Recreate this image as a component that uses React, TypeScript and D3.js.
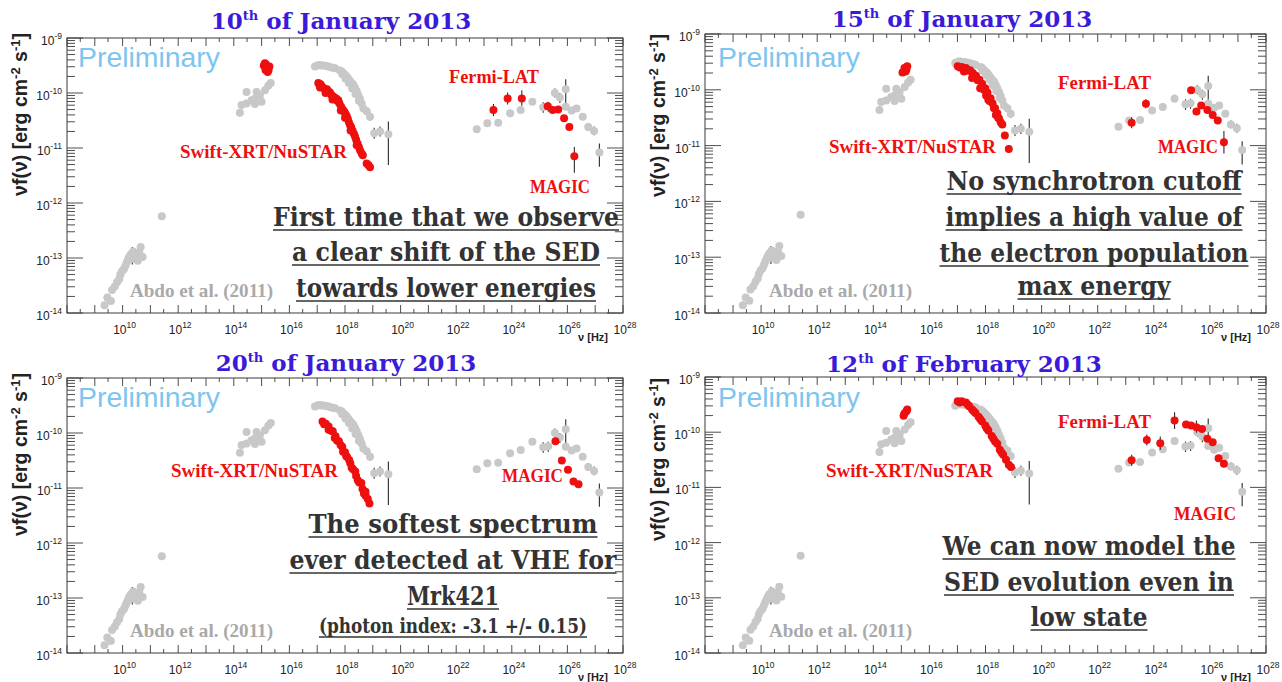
import React from "react";
import * as d3 from "d3";

// Each point: [log10 ν (Hz), log10 νF(ν) (erg cm^-2 s^-1), error down (dex), error up (dex)]
type Pt = number[];

// ---- Archival SED, Abdo et al. (2011) ----
const abdoRadio: Pt[] = [
  [9.35, -13.86], [9.45, -13.72], [9.58, -13.78], [9.62, -13.58], [9.72, -13.52],
  [9.8, -13.44], [9.88, -13.38], [9.92, -13.3], [9.98, -13.24], [10.05, -13.2],
  [10.1, -13.14], [10.15, -13.08], [10.2, -13.02], [10.25, -12.97], [10.3, -12.93],
  [10.35, -12.95, 0.17, 0.15], [10.38, -12.88], [10.42, -13.02], [10.48, -12.98],
  [10.55, -13.05], [10.6, -12.9], [10.65, -12.8], [10.72, -12.98],
];
const abdoMm: Pt[] = [[11.41, -12.24]];
const abdoOptical: Pt[] = [
  [14.22, -10.36], [14.28, -10.22], [14.46, -10.19], [14.46, -9.98], [14.64, -10.13],
  [14.76, -10.1], [14.76, -10.2], [14.82, -9.98], [14.94, -10.04], [15.0, -10.16],
  [15.12, -9.95], [15.24, -9.87], [15.33, -9.82],
];
const abdoXray: Pt[] = [
  [16.92, -9.52], [17.0, -9.5], [17.08, -9.49], [17.16, -9.5], [17.24, -9.5],
  [17.32, -9.51], [17.4, -9.52], [17.48, -9.53], [17.56, -9.54], [17.64, -9.55],
  [17.82, -9.59], [17.88, -9.61], [17.94, -9.64], [18.0, -9.67], [18.06, -9.7],
  [18.12, -9.74], [18.18, -9.78], [18.24, -9.82], [18.3, -9.85], [18.36, -9.91],
  [18.42, -9.97], [18.48, -10.04], [18.54, -10.11], [18.6, -10.19],
  [17.9, -9.66], [18.02, -9.74], [18.14, -9.82], [18.26, -9.92], [18.38, -10.02],
  [18.5, -10.14],
  [18.66, -10.28, 0.06, 0.06], [18.78, -10.33, 0.05, 0.05], [18.9, -10.43, 0.07, 0.07],
  [19.05, -10.73, 0.1, 0.1], [19.26, -10.7, 0.09, 0.09], [19.56, -10.75, 0.56, 0.23],
];
const abdoGamma: Pt[] = [
  [22.74, -10.66], [23.12, -10.55], [23.51, -10.54], [23.94, -10.37, 0.05, 0.05],
  [24.32, -10.31, 0.06, 0.06], [24.74, -10.16, 0.06, 0.07], [25.13, -10.26, 0.1, 0.09],
  [25.31, -10.24, 0.1, 0.08], [25.55, -10.0, 0.08, 0.08], [25.73, -10.08, 0.1, 0.08],
  [25.94, -9.93, 0.25, 0.18], [25.94, -10.25], [26.15, -10.32], [26.33, -10.28],
  [26.55, -10.43], [26.75, -10.62, 0.07, 0.07], [26.96, -10.69, 0.08, 0.08],
  [27.15, -11.08, 0.26, 0.16],
];

// ---- 10 January 2013 ----
const jan10Optical: Pt[] = [
  [15.08, -9.5], [15.12, -9.46], [15.16, -9.48], [15.2, -9.53], [15.25, -9.58],
  [15.28, -9.52], [15.22, -9.62], [15.14, -9.58],
];
const jan10Xray: Pt[] = [
  [17.04, -9.82], [17.08, -9.85], [17.12, -9.84], [17.16, -9.88], [17.2, -9.9],
  [17.25, -9.92], [17.3, -9.95], [17.35, -9.93], [17.4, -9.97], [17.46, -9.99],
  [17.5, -10.03], [17.56, -10.06], [17.62, -10.08], [17.68, -10.1], [17.72, -10.14],
  [17.76, -10.13], [17.8, -10.19], [17.86, -10.25], [17.92, -10.3], [17.98, -10.34],
  [18.02, -10.38], [18.06, -10.42], [18.1, -10.47], [18.14, -10.53], [18.18, -10.58],
  [18.22, -10.62], [18.27, -10.68], [18.32, -10.74], [18.36, -10.79], [18.4, -10.85],
  [18.45, -10.92], [18.5, -10.98], [18.54, -11.04], [18.6, -11.1], [18.64, -11.13],
  [18.78, -11.28], [18.84, -11.31], [18.9, -11.35],
  [17.1, -9.9], [17.3, -10.0], [17.55, -10.12], [17.85, -10.32], [18.0, -10.45],
  [18.2, -10.68], [18.42, -10.95],
];
const jan10Fermi: Pt[] = [
  [23.34, -10.31, 0.11, 0.11], [23.85, -10.1, 0.11, 0.11], [24.36, -10.1, 0.13, 0.15],
];
const jan10Magic: Pt[] = [
  [25.29, -10.24, 0.06, 0.07], [25.47, -10.31, 0.05, 0.05], [25.67, -10.3, 0.04, 0.04],
  [25.88, -10.46, 0.04, 0.04], [26.07, -10.62, 0.05, 0.05], [26.25, -11.15, 0.3, 0.17],
];

// ---- 15 January 2013 ----
const jan15Optical: Pt[] = [
  [15.11, -9.61], [15.18, -9.64], [15.04, -9.69], [15.21, -9.58], [15.15, -9.67],
];
const jan15Xray: Pt[] = [
  [17.01, -9.58], [17.15, -9.59], [17.3, -9.61], [17.45, -9.65], [17.55, -9.7],
  [17.66, -9.75], [17.78, -9.82], [17.88, -9.89], [17.99, -9.97], [18.07, -10.05],
  [18.18, -10.15], [18.25, -10.24], [18.34, -10.33], [18.42, -10.42], [18.48, -10.51],
  [18.54, -10.58], [18.6, -10.62],
  [17.23, -9.67], [17.52, -9.79], [17.81, -9.97], [18.1, -10.18], [18.37, -10.45],
  [17.08, -9.6], [17.38, -9.66], [17.6, -9.76], [17.72, -9.83], [17.94, -10.0],
  [18.02, -10.1], [18.14, -10.2], [18.3, -10.33], [18.45, -10.5],
  [18.69, -10.82, 0.05, 0.05], [18.83, -11.06, 0.07, 0.07],
];
const jan15Fermi: Pt[] = [[23.21, -10.59, 0.1, 0.1], [23.72, -10.25, 0.08, 0.08]];
const jan15Magic: Pt[] = [
  [25.33, -10.01, 0.05, 0.05], [25.52, -10.39, 0.05, 0.05], [25.69, -10.28, 0.05, 0.05],
  [25.91, -10.36, 0.04, 0.04], [26.1, -10.45, 0.05, 0.05], [26.28, -10.55, 0.06, 0.06],
  [26.5, -10.94, 0.2, 0.2],
];

// ---- 20 January 2013 ----
const jan20Xray: Pt[] = [
  [17.19, -9.79], [17.31, -9.83], [17.41, -9.88], [17.56, -9.97], [17.66, -10.06],
  [17.78, -10.15], [17.9, -10.25], [18.0, -10.35], [18.07, -10.43], [18.19, -10.55],
  [18.29, -10.66], [18.4, -10.78], [18.51, -10.9], [18.63, -11.02], [18.74, -11.14],
  [18.88, -11.28],
  [17.41, -9.94], [17.63, -10.09], [17.93, -10.34], [18.15, -10.49], [18.37, -10.7],
  [18.59, -10.91], [18.74, -11.07],
  [17.25, -9.84], [17.5, -9.96], [17.72, -10.14], [17.84, -10.22], [18.04, -10.42],
  [18.24, -10.63], [18.46, -10.86], [18.68, -11.1], [18.82, -11.2],
];
const jan20Magic: Pt[] = [
  [25.57, -10.15, 0.04, 0.04], [25.8, -10.5, 0.05, 0.05], [26.02, -10.67, 0.05, 0.05],
  [26.22, -10.88, 0.05, 0.05], [26.4, -10.93, 0.06, 0.06],
];

// ---- 12 February 2013 ----
const feb12Optical: Pt[] = [[15.08, -9.7], [15.18, -9.62], [15.21, -9.59], [15.11, -9.66]];
const feb12Xray: Pt[] = [
  [17.01, -9.44], [17.15, -9.44], [17.3, -9.46], [17.42, -9.53], [17.52, -9.59],
  [17.64, -9.65], [17.75, -9.72], [17.87, -9.8], [17.99, -9.88], [18.1, -9.97],
  [18.22, -10.07], [18.34, -10.17], [18.42, -10.21], [18.51, -10.32], [18.63, -10.41],
  [18.73, -10.5], [18.83, -10.59], [18.91, -10.63],
  [17.08, -9.46], [17.36, -9.5], [17.58, -9.62], [17.81, -9.76], [18.04, -9.93],
  [18.28, -10.12], [18.57, -10.37],
];
const feb12Fermi: Pt[] = [
  [23.21, -10.51, 0.1, 0.1], [23.75, -10.14, 0.1, 0.1], [24.23, -10.2, 0.12, 0.12],
  [24.74, -9.79, 0.15, 0.15],
];
const feb12Magic: Pt[] = [
  [25.15, -9.86], [25.33, -9.88], [25.52, -9.91, 0.1, 0.12], [25.72, -9.94],
  [25.91, -10.12], [26.1, -10.18], [26.31, -10.47], [26.5, -10.57],
];

// Axis ticks
const xLabelExponents = [10, 12, 14, 16, 18, 20, 22, 24, 26, 28];
const yLabelExponents = [-9, -10, -11, -12, -13, -14];

const RED = "#ee0f0f";
const GREY = "#c8c8c8";
const TITLE = "#3a1bd9";
const TEXT = "#333333";
const SERIF = "'Liberation Serif', 'Times New Roman', serif";
const HEAVY = "'DejaVu Serif', serif";
const SANS = "'Liberation Sans', Arial, sans-serif";

type Label = { text: string; x: number; y: number; w: number };
type Line = { text: string; y: number; w: number; size?: number };
type PanelSpec = {
  frame: { l: number; r: number; t: number; b: number };
  title: { day: string; suf: string; rest: string; cx: number; y: number };
  yLabelX: number;
  yLabelTop: number;
  prelim: { x: number; y: number };
  red: Pt[][];
  redLabels: Label[];
  abdo: { x: number; y: number };
  bigCx: number;
  lines: Line[];
};

const panels: PanelSpec[] = [
  {
    frame: { l: 67, r: 623, t: 38, b: 313 },
    title: { day: "10", suf: "th", rest: " of January 2013", cx: 341, y: 29 },
    yLabelX: 20, yLabelTop: 33,
    prelim: { x: 78, y: 67 },
    red: [jan10Optical, jan10Xray, jan10Fermi, jan10Magic],
    redLabels: [
      { text: "Swift-XRT/NuSTAR", x: 180, y: 158, w: 167 },
      { text: "Fermi-LAT", x: 449, y: 83, w: 90 },
      { text: "MAGIC", x: 530, y: 193, w: 60 },
    ],
    abdo: { x: 130, y: 297 },
    bigCx: 446,
    lines: [
      { text: "First time that we observe", y: 226, w: 346 },
      { text: "a clear shift of the SED", y: 261, w: 308 },
      { text: "towards lower energies", y: 297, w: 300 },
    ],
  },
  {
    frame: { l: 705, r: 1266, t: 34, b: 313 },
    title: { day: "15", suf: "th", rest: " of January 2013", cx: 962, y: 27 },
    yLabelX: 658, yLabelTop: 34,
    prelim: { x: 718, y: 67 },
    red: [jan15Optical, jan15Xray, jan15Fermi, jan15Magic],
    redLabels: [
      { text: "Swift-XRT/NuSTAR", x: 829, y: 153, w: 167 },
      { text: "Fermi-LAT", x: 1058, y: 89, w: 93 },
      { text: "MAGIC", x: 1158, y: 153, w: 60 },
    ],
    abdo: { x: 769, y: 297 },
    bigCx: 1094,
    lines: [
      { text: "No synchrotron cutoff", y: 190, w: 295 },
      { text: "implies a high value of", y: 226, w: 297 },
      { text: "the electron population", y: 262, w: 309 },
      { text: "max energy", y: 295, w: 153 },
    ],
  },
  {
    frame: { l: 67, r: 623, t: 378, b: 653 },
    title: { day: "20", suf: "th", rest: " of January 2013", cx: 346, y: 371 },
    yLabelX: 20, yLabelTop: 373,
    prelim: { x: 78, y: 407 },
    red: [jan20Xray, jan20Magic],
    redLabels: [
      { text: "Swift-XRT/NuSTAR", x: 171, y: 477, w: 167 },
      { text: "MAGIC", x: 502, y: 482, w: 61 },
    ],
    abdo: { x: 130, y: 637 },
    bigCx: 453,
    lines: [
      { text: "The softest spectrum", y: 533, w: 289 },
      { text: "ever detected at VHE for", y: 569, w: 327 },
      { text: "Mrk421", y: 605, w: 92 },
      { text: "(photon index: -3.1 +/- 0.15)", y: 633, w: 268, size: 20 },
    ],
  },
  {
    frame: { l: 705, r: 1266, t: 377, b: 653 },
    title: { day: "12", suf: "th", rest: " of February 2013", cx: 964, y: 372 },
    yLabelX: 658, yLabelTop: 378,
    prelim: { x: 718, y: 407 },
    red: [feb12Optical, feb12Xray, feb12Fermi, feb12Magic],
    redLabels: [
      { text: "Swift-XRT/NuSTAR", x: 826, y: 477, w: 167 },
      { text: "Fermi-LAT", x: 1058, y: 428, w: 93 },
      { text: "MAGIC", x: 1174, y: 520, w: 62 },
    ],
    abdo: { x: 769, y: 637 },
    bigCx: 1089,
    lines: [
      { text: "We can now model the", y: 555, w: 293 },
      { text: "SED evolution even in", y: 591, w: 290 },
      { text: "low state", y: 626, w: 117 },
    ],
  },
];

const archival = [abdoRadio, abdoMm, abdoOptical, abdoXray, abdoGamma];

function Points({ data, fill, x, y }: { data: Pt[]; fill: string; x: (v: number) => number; y: (v: number) => number }) {
  return (
    <g>
      {data.map((p, i) =>
        p.length > 2 ? (
          <line key={"e" + i} x1={x(p[0])} x2={x(p[0])} y1={y(p[1] - p[2])} y2={y(p[1] + p[3])} stroke="#2a2a2a" strokeWidth={1.1} />
        ) : null
      )}
      {data.map((p, i) => (
        <circle key={i} cx={x(p[0])} cy={y(p[1])} r={4} fill={fill} />
      ))}
    </g>
  );
}

function Panel({ spec }: { spec: PanelSpec }) {
  const { l, r, t, b } = spec.frame;
  const xs = d3.scaleLog().domain([1e8, 1e28]).range([l, r]);
  const ys = d3.scaleLog().domain([1e-14, 1e-9]).range([b, t]);
  const x = (lg: number) => xs(Math.pow(10, lg));
  const y = (lg: number) => ys(Math.pow(10, lg));

  const yTicks: { v: number; major: boolean }[] = [];
  for (let d = -14; d < -9; d++) {
    for (let k = 1; k <= 9; k++) yTicks.push({ v: k * Math.pow(10, d), major: k === 1 });
  }
  yTicks.push({ v: 1e-9, major: true });
  const xTicks: { v: number; major: boolean }[] = [];
  for (let n = 8; n <= 28; n++) {
    xTicks.push({ v: Math.pow(10, n), major: true });
    if (n < 28) xTicks.push({ v: 3 * Math.pow(10, n), major: false });
  }

  return (
    <g>
      {/* frame and ticks */}
      <rect x={l} y={t} width={r - l} height={b - t} fill="none" stroke="#3a3a3a" strokeWidth={1} />
      {yTicks.map((tk, i) => {
        const yy = ys(tk.v);
        const len = tk.major ? 16 : 8;
        return (
          <g key={"yt" + i} stroke="#3a3a3a" strokeWidth={0.9}>
            <line x1={l} x2={l + len} y1={yy} y2={yy} />
            <line x1={r} x2={r - len} y1={yy} y2={yy} />
          </g>
        );
      })}
      {xTicks.map((tk, i) => {
        const xx = xs(tk.v);
        const len = tk.major ? 8 : 4;
        return (
          <g key={"xt" + i} stroke="#3a3a3a" strokeWidth={0.9}>
            <line x1={xx} x2={xx} y1={b} y2={b - len} />
            <line x1={xx} x2={xx} y1={t} y2={t + len} />
          </g>
        );
      })}
      {yLabelExponents.map((e) => (
        <text key={"yl" + e} x={l - 5} y={ys(Math.pow(10, e)) + 7} textAnchor="end" fontFamily={SANS} fontSize={12} fill="#222">
          10<tspan dy={-6} fontSize={8.5}>{e}</tspan>
        </text>
      ))}
      {xLabelExponents.map((e) => (
        <text key={"xl" + e} x={xs(Math.pow(10, e)) + 2} y={b + 21} textAnchor="middle" fontFamily={SANS} fontSize={12} fill="#222">
          10<tspan dy={-6} fontSize={8.5}>{e}</tspan>
        </text>
      ))}
      <text x={r - 15} y={b + 28} textAnchor="end" fontFamily={SANS} fontSize={11} fontWeight="bold" fill="#222">
        ν [Hz]
      </text>
      {/* y axis title */}
      <text
        transform={`translate(${spec.yLabelX + 7},${spec.yLabelTop}) rotate(-90)`}
        textAnchor="end"
        fontFamily={SANS}
        fontWeight="bold"
        fontSize={19.5}
        fill="#222"
      >
        νf(ν) [erg cm<tspan dy={-7} fontSize={13}>-2</tspan>
        <tspan dy={7}> s</tspan>
        <tspan dy={-7} fontSize={13}>-1</tspan>
        <tspan dy={7}>]</tspan>
      </text>
      {/* title */}
      <text x={spec.title.cx} y={spec.title.y} textAnchor="middle" fontFamily={HEAVY} fontWeight="bold" fontSize={23} fill={TITLE}>
        {spec.title.day}
        <tspan dy={-9} fontSize={13}>{spec.title.suf}</tspan>
        <tspan dy={9}>{spec.title.rest}</tspan>
      </text>
      <text x={spec.prelim.x} y={spec.prelim.y} fontFamily={SANS} fontSize={27} fill="#7ec4ef" textLength={142} lengthAdjust="spacingAndGlyphs">
        Preliminary
      </text>
      {/* data */}
      {archival.map((d, i) => (
        <Points key={"a" + i} data={d} fill={GREY} x={x} y={y} />
      ))}
      {spec.red.map((d, i) => (
        <Points key={"r" + i} data={d} fill={RED} x={x} y={y} />
      ))}
      {/* labels */}
      {spec.redLabels.map((lb, i) => (
        <text key={"lb" + i} x={lb.x} y={lb.y} fontFamily={SERIF} fontWeight="bold" fontSize={19} fill={RED} textLength={lb.w} lengthAdjust="spacingAndGlyphs">
          {lb.text}
        </text>
      ))}
      <text x={spec.abdo.x} y={spec.abdo.y} fontFamily={SERIF} fontWeight="bold" fontSize={19} fill="#a9a9a9" textLength={143} lengthAdjust="spacingAndGlyphs">
        Abdo et al. (2011)
      </text>
      {spec.lines.map((ln, i) => (
        <g key={"bl" + i}>
          <text
            x={spec.bigCx}
            y={ln.y}
            textAnchor="middle"
            fontFamily={HEAVY}
            fontWeight="bold"
            fontSize={ln.size ?? 26}
            fill={TEXT}
            textLength={ln.w}
            lengthAdjust="spacingAndGlyphs"
          >
            {ln.text}
          </text>
          <line
            x1={spec.bigCx - ln.w / 2}
            x2={spec.bigCx + ln.w / 2}
            y1={ln.y + 4}
            y2={ln.y + 4}
            stroke={TEXT}
            strokeWidth={1.6}
          />
        </g>
      ))}
    </g>
  );
}

export default function App() {
  return (
    <svg width={1282} height={682} style={{ position: "absolute", left: 0, top: 0, background: "#fff" }}>
      <rect width={1282} height={682} fill="#fff" />
      {panels.map((p, i) => (
        <Panel key={i} spec={p} />
      ))}
    </svg>
  );
}
